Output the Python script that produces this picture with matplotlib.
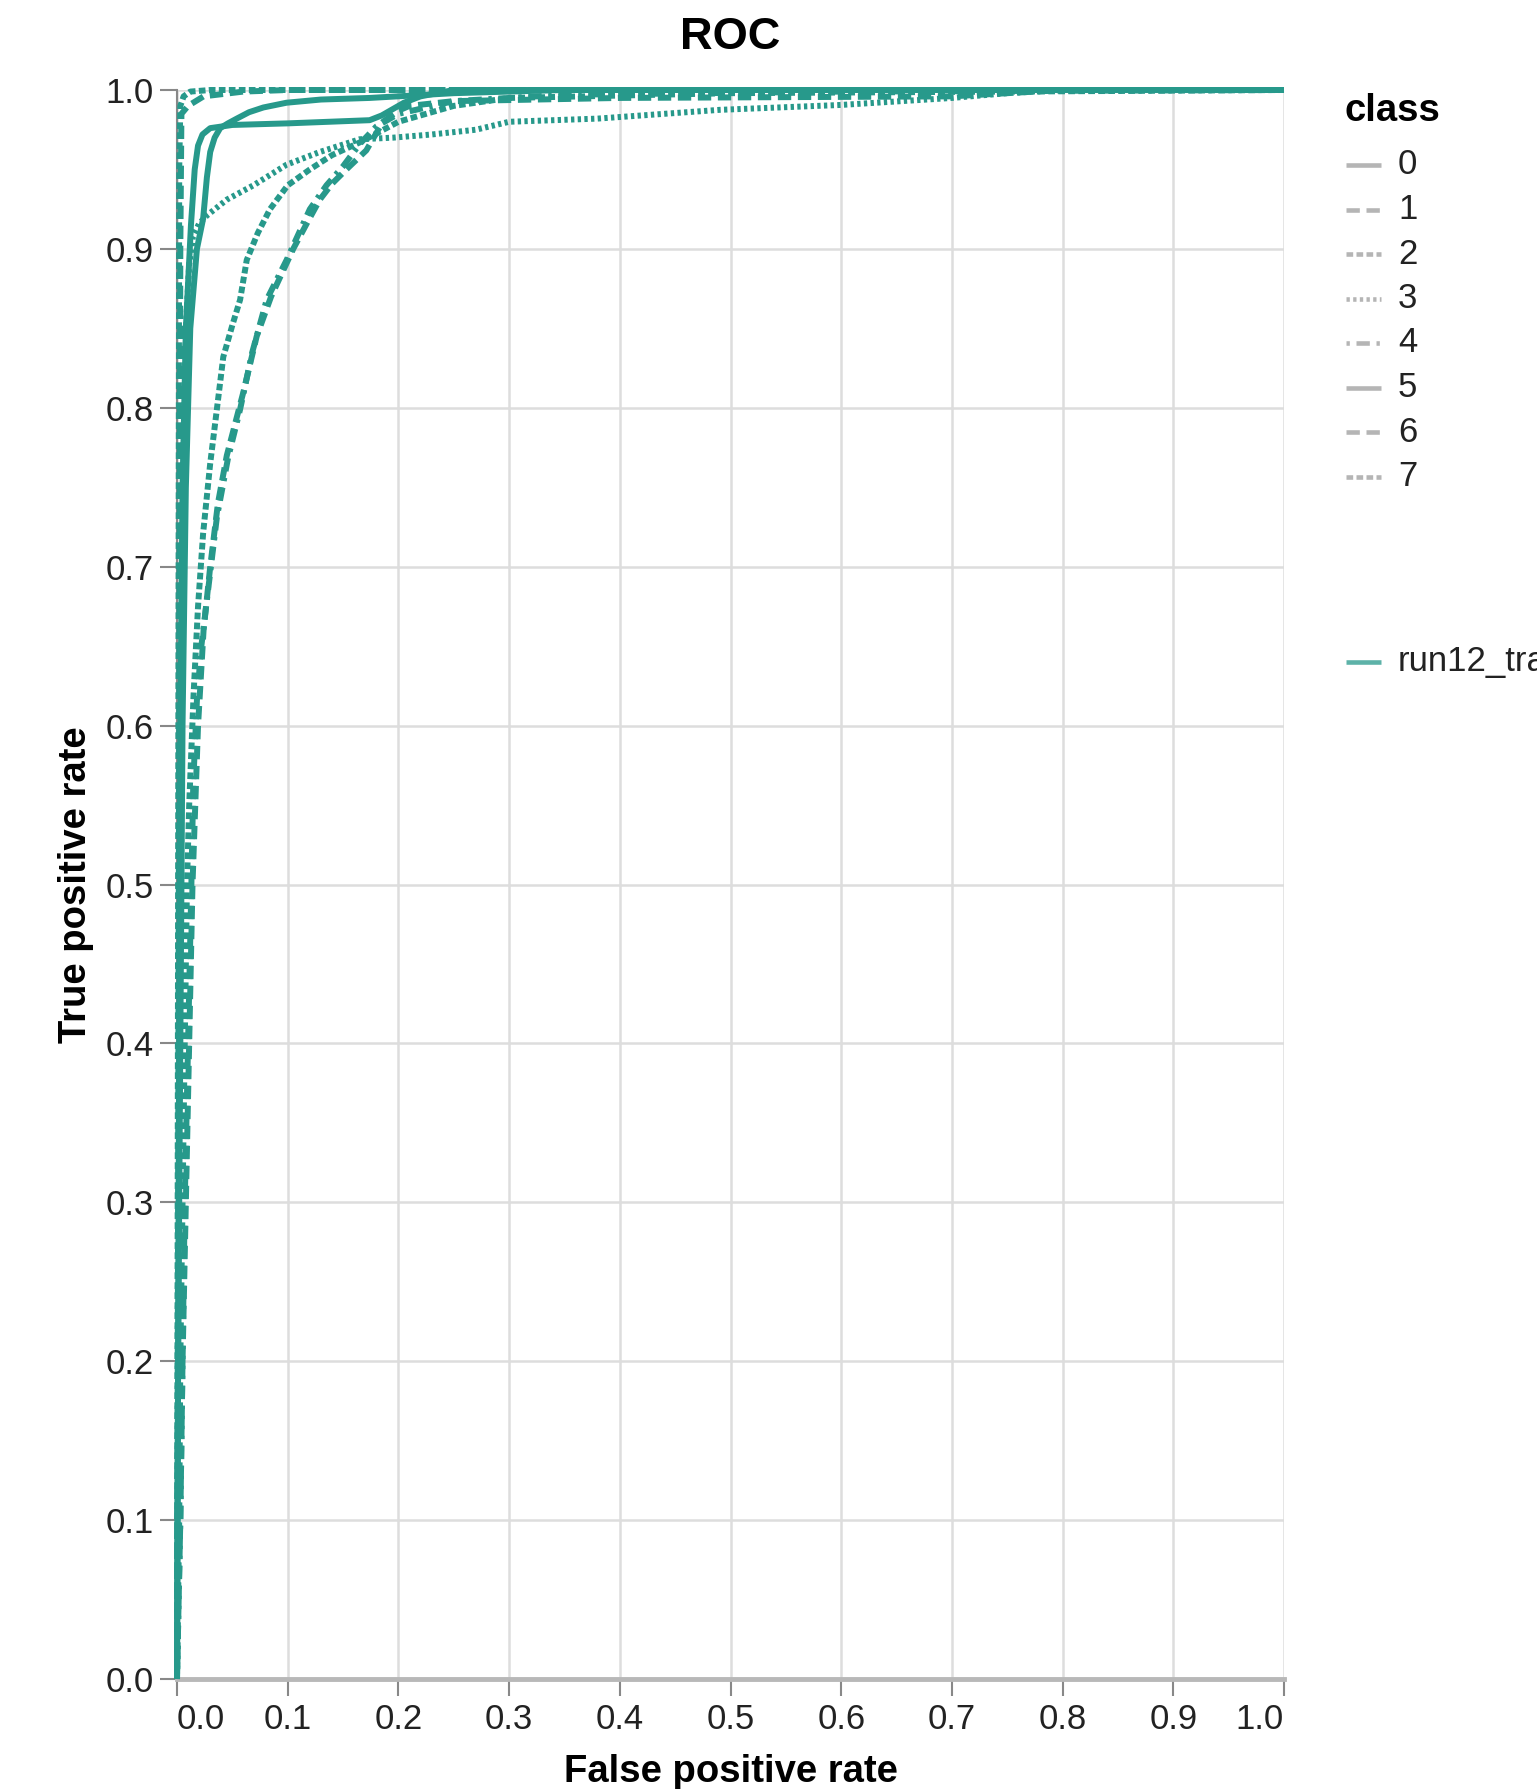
import matplotlib
matplotlib.use("Agg")
import matplotlib.pyplot as plt
from matplotlib.lines import Line2D

plt.rcParams['font.family'] = ['Liberation Sans', 'DejaVu Sans']
plt.rcParams['lines.scale_dashes'] = False

# ROC points per class (false positive rate, true positive rate)
classes = ["0", "1", "2", "3", "4", "5", "6", "7"]
run_name = "run12_train"

fpr_0 = [0, 0.001, 0.002, 0.003, 0.005, 0.008, 0.0126, 0.016, 0.019, 0.023, 0.03, 0.05, 0.1, 0.174, 0.185, 0.195, 0.205, 0.22, 0.25, 1.0]
tpr_0 = [0, 0.2, 0.4, 0.6, 0.75, 0.85, 0.915, 0.95, 0.965, 0.972, 0.976, 0.978, 0.979, 0.981, 0.984, 0.988, 0.992, 0.996, 1.0, 1.0]

fpr_1 = [0, 0.001, 0.002, 0.003, 0.004, 0.01, 0.024, 0.06, 0.1, 1.0]
tpr_1 = [0, 0.3, 0.6, 0.9, 0.985, 0.99, 0.996, 0.999, 1.0, 1.0]

fpr_2 = [0, 0.002, 0.003, 0.005, 0.007, 0.009, 0.011, 0.015, 0.019, 0.0236, 0.03, 0.036, 0.0418, 0.05, 0.057, 0.063, 0.073, 0.084, 0.1, 0.12, 0.14, 0.165, 0.2, 0.25, 0.3, 0.5, 1.0]
tpr_2 = [0, 0.1, 0.2, 0.3, 0.4, 0.5, 0.55, 0.62, 0.675, 0.721, 0.765, 0.799, 0.832, 0.852, 0.868, 0.893, 0.91, 0.925, 0.94, 0.95, 0.959, 0.967, 0.98, 0.99, 0.995, 0.998, 1.0]

fpr_3 = [0, 0.001, 0.002, 0.003, 0.005, 0.008, 0.011, 0.0145, 0.02, 0.027, 0.045, 0.069, 0.099, 0.129, 0.165, 0.195, 0.23, 0.27, 0.3, 0.38, 0.49, 0.6, 0.7, 0.75, 0.8, 1.0]
tpr_3 = [0, 0.2, 0.4, 0.6, 0.75, 0.85, 0.89, 0.908, 0.916, 0.921, 0.931, 0.94, 0.953, 0.961, 0.969, 0.970, 0.972, 0.975, 0.98, 0.982, 0.9875, 0.9906, 0.995, 0.998, 1.0, 1.0]

fpr_4 = [0, 0.003, 0.005, 0.007, 0.01, 0.013, 0.0147, 0.018, 0.022, 0.027, 0.036, 0.046, 0.057, 0.068, 0.081, 0.099, 0.12, 0.135, 0.15, 0.165, 0.18, 0.2, 0.25, 0.35, 0.6, 1.0]
tpr_4 = [0, 0.1, 0.2, 0.3, 0.4, 0.5, 0.564, 0.616, 0.65, 0.679, 0.731, 0.768, 0.799, 0.835, 0.868, 0.893, 0.925, 0.94, 0.952, 0.966, 0.977, 0.985, 0.993, 0.997, 0.999, 1.0]

fpr_5 = [0, 0.001, 0.003, 0.005, 0.008, 0.012, 0.018, 0.0236, 0.027, 0.030, 0.034, 0.039, 0.046, 0.054, 0.065, 0.078, 0.099, 0.13, 0.174, 0.25, 0.35, 1.0]
tpr_5 = [0, 0.2, 0.4, 0.6, 0.75, 0.85, 0.9, 0.919, 0.945, 0.961, 0.97, 0.976, 0.979, 0.982, 0.986, 0.989, 0.992, 0.994, 0.995, 0.998, 1.0, 1.0]

fpr_6 = [0, 0.003, 0.005, 0.008, 0.011, 0.014, 0.019, 0.024, 0.03, 0.037, 0.045, 0.06, 0.072, 0.085, 0.105, 0.118, 0.129, 0.14, 0.153, 0.171, 0.186, 0.2, 0.21, 0.25, 0.4, 0.7, 0.75, 0.8, 1.0]
tpr_6 = [0, 0.1, 0.2, 0.3, 0.4, 0.5, 0.6, 0.66, 0.7, 0.74, 0.77, 0.81, 0.845, 0.87, 0.9, 0.917, 0.931, 0.941, 0.95, 0.962, 0.98, 0.987, 0.99, 0.993, 0.995, 0.996, 0.998, 1.0, 1.0]

fpr_7 = [0, 0.001, 0.002, 0.003, 0.006, 0.012, 0.03, 0.05, 1.0]
tpr_7 = [0, 0.5, 0.95, 0.99, 0.996, 0.999, 1.0, 1.0, 1.0]

fprs = [fpr_0, fpr_1, fpr_2, fpr_3, fpr_4, fpr_5, fpr_6, fpr_7]
tprs = [tpr_0, tpr_1, tpr_2, tpr_3, tpr_4, tpr_5, tpr_6, tpr_7]

ticks = [0.0, 0.1, 0.2, 0.3, 0.4, 0.5, 0.6, 0.7, 0.8, 0.9, 1.0]

# vega-style dash cycle, scaled to the output size (points)
unit = 2.4
dash_cycle = [None, (4, 2), (2, 1), (1, 1), (1, 2, 4, 2)]
teal = "#27998b"

W, H = 1537, 1789
fig = plt.figure(figsize=(W / 100, H / 100), dpi=100)
ax = fig.add_axes([177 / W, 110 / H, 1107 / W, 1589 / H])

for i, c in enumerate(classes):
    d = dash_cycle[i % len(dash_cycle)]
    line, = ax.plot(fprs[i], tprs[i], color=teal, lw=4.3, clip_on=False,
                    solid_capstyle="butt", solid_joinstyle="round", zorder=3)
    if d is not None:
        line.set_dashes([v * unit for v in d])

ax.set_xlim(0, 1)
ax.set_ylim(0, 1)
ax.set_xticks(ticks)
ax.set_yticks(ticks)
ax.set_xticklabels([f"{t:.1f}" for t in ticks])
ax.set_yticklabels([f"{t:.1f}" for t in ticks])
ax.grid(True, color="#dddddd", lw=1.8, zorder=0)
ax.set_axisbelow(True)

for s in ["top", "right"]:
    ax.spines[s].set_visible(False)
ax.spines["left"].set_color("#888888")
ax.spines["left"].set_linewidth(1.5)
ax.spines["bottom"].set_color("#b8b8b8")
ax.spines["bottom"].set_linewidth(3.5)

ax.tick_params(axis="both", length=12, width=1.5, color="#888888",
               labelsize=25, labelcolor="#222222", pad=5)

# flush the end labels on the x axis
xl = ax.get_xticklabels()
xl[0].set_horizontalalignment("left")
xl[-1].set_horizontalalignment("right")

ax.set_title("ROC", fontsize=32.5, fontweight="bold", y=1.033, pad=0, va="center")
ax.set_xlabel("False positive rate", fontsize=27.5, fontweight="bold")
ax.xaxis.set_label_coords(0.5, -0.0587)
ax.xaxis.label.set_va("center")
ax.set_ylabel("True positive rate", fontsize=27.5, fontweight="bold")
ax.yaxis.set_label_coords(-0.0916, 0.5)
ax.yaxis.label.set_va("center")


def px(x, y):
    return x / W, 1 - y / H


# class legend
fig.text(*px(1344, 111), "class", fontsize=27.5, fontweight="bold", va="center", ha="left")
for i, c in enumerate(classes):
    y = 165 + 44.5 * i
    d = dash_cycle[i % len(dash_cycle)]
    x0, y0 = px(1346, y)
    x1, _ = px(1381, y)
    sym = Line2D([x0, x1], [y0, y0], transform=fig.transFigure,
                 color="#b5b5b5", lw=3.3, solid_capstyle="butt")
    if d is not None:
        sym.set_dashes([v * unit for v in d])
    fig.add_artist(sym)
    fig.text(*px(1398, y), c, fontsize=25, va="center", ha="left", color="#222222")

# run legend
x0, y0 = px(1346, 662)
x1, _ = px(1381, 662)
fig.add_artist(Line2D([x0, x1], [y0, y0], transform=fig.transFigure,
                      color=teal, lw=3.3, alpha=0.75, solid_capstyle="butt"))
fig.text(*px(1398, 662), run_name, fontsize=25, va="center", ha="left", color="#222222")

fig.savefig("out.png", dpi=100)
